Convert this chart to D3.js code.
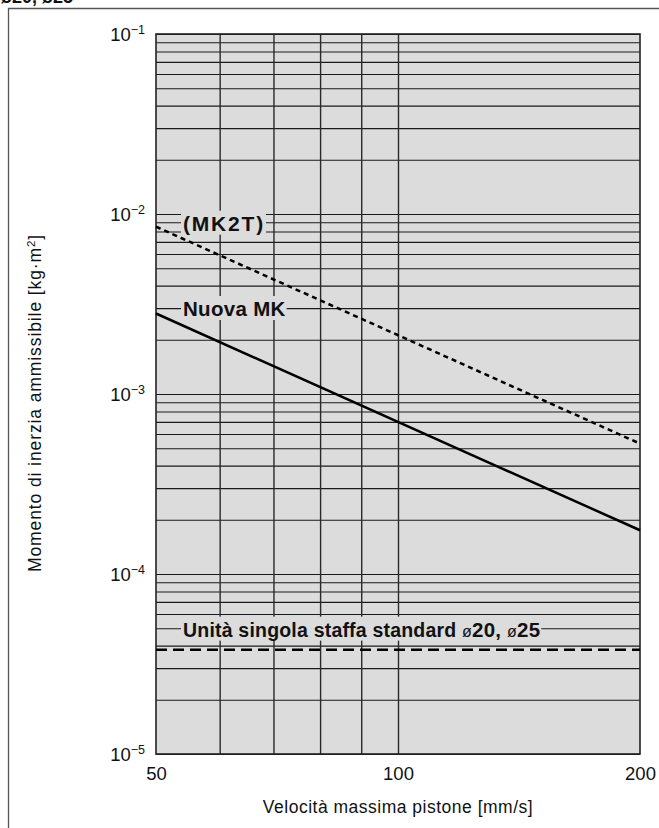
<!DOCTYPE html>
<html>
<head>
<meta charset="utf-8">
<script src="https://cdn.jsdelivr.net/npm/d3@7"></script>
<style>
  body { margin: 0; background: #fff; }
  svg text { font-family: "Liberation Sans", Arial, Helvetica, sans-serif; fill: #111; }
</style>
</head>
<body>
<div id="vis"></div>
<script>
// chart values
const velocity = [50, 200];                 // mm/s, end points of each straight line
const nuovaMK = [2.8e-3, 1.75e-4];          // kg·m²
const mk2t = [8.5e-3, 5.3e-4];
const standardUnit = [3.8e-5, 3.8e-5];
const xTicks = [50, 100, 200];
const xGrid = [60, 70, 80, 90, 100];
const yTicks = [1e-5, 1e-4, 1e-3, 1e-2, 1e-1];
const yGrid = d3.range(-5, -1).flatMap(e => d3.range(2, 10).map(m => m * Math.pow(10, e)));

const W = 659, H = 828;
const margin = { top: 34, right: 19, bottom: 74, left: 156 };
const width = W - margin.left - margin.right;
const height = H - margin.top - margin.bottom;

const svg = d3.select("#vis").append("svg")
  .attr("width", W)
  .attr("height", H);

// page frame + cut-off heading from the page above
svg.append("path")
  .attr("d", `M8.5,${H} V8.5 H${W}`)
  .attr("fill", "none")
  .attr("stroke", "#555")
  .attr("stroke-width", 1.3);
svg.append("text")
  .attr("x", 1).attr("y", 3)
  .attr("font-size", 18).attr("font-weight", "bold")
  .text("ø20, ø25");

const g = svg.append("g")
  .attr("transform", `translate(${margin.left},${margin.top})`);

const x = d3.scaleLog().domain([50, 200]).range([0, width]);
const y = d3.scaleLog().domain([1e-5, 1e-1]).range([height, 0]);

g.append("rect")
  .attr("width", width).attr("height", height)
  .attr("fill", "#dcdcdc");

// horizontal grid
g.append("g")
  .attr("class", "y-grid")
  .call(d3.axisLeft(y).tickValues(yGrid.concat(yTicks)).tickSize(-width).tickFormat(""))
  .call(s => s.select(".domain").remove())
  .selectAll("line")
  .attr("stroke", "#1a1a1a")
  .attr("stroke-width", 1.1);

// vertical grid
g.append("g")
  .attr("class", "x-grid")
  .attr("transform", `translate(0,${height})`)
  .call(d3.axisBottom(x).tickValues(xGrid).tickSize(-height).tickFormat(""))
  .call(s => s.select(".domain").remove())
  .selectAll("line")
  .attr("stroke", "#2a2a2a")
  .attr("stroke-width", 1.4);

// plot border
g.append("rect")
  .attr("width", width).attr("height", height)
  .attr("fill", "none")
  .attr("stroke", "#222")
  .attr("stroke-width", 1.6);

// y tick labels 10^n
const yAxis = g.append("g")
  .attr("class", "y-axis")
  .call(d3.axisLeft(y).tickValues(yTicks).tickSize(0).tickPadding(11).tickFormat(""));
yAxis.select(".domain").remove();
yAxis.selectAll(".tick text")
  .attr("font-size", 18.5)
  .attr("dy", "0.33em")
  .each(function(d) {
    const t = d3.select(this);
    t.append("tspan").text("10");
    t.append("tspan")
      .attr("font-size", 12.5)
      .attr("dy", -7)
      .text("\u2212" + Math.abs(Math.round(Math.log10(d))));
  });

// x tick labels
const xAxis = g.append("g")
  .attr("class", "x-axis")
  .attr("transform", `translate(0,${height})`)
  .call(d3.axisBottom(x).tickValues(xTicks).tickSize(0).tickPadding(13).tickFormat(d3.format("d")));
xAxis.select(".domain").remove();
xAxis.selectAll(".tick text")
  .attr("font-size", 18.5)
  .attr("fill", "#111");

// axis titles
svg.append("text")
  .attr("x", margin.left + x(100))
  .attr("y", 813)
  .attr("text-anchor", "middle")
  .attr("font-size", 17.5)
  .attr("letter-spacing", 0.5)
  .text("Velocità massima pistone [mm/s]");

const yTitle = svg.append("text")
  .attr("transform", `translate(41,403) rotate(-90)`)
  .attr("text-anchor", "middle")
  .attr("font-size", 17.5)
  .attr("letter-spacing", 0.9);
yTitle.append("tspan").text("Momento di inerzia ammissibile [kg·m");
yTitle.append("tspan").attr("font-size", 11.5).attr("dy", -6).text("2");
yTitle.append("tspan").attr("dy", 6).text("]");

// series lines
const line = d3.line().x(d => x(d[0])).y(d => y(d[1]));

g.append("path")
  .datum(d3.zip(velocity, mk2t))
  .attr("d", line)
  .attr("fill", "none")
  .attr("stroke", "#000")
  .attr("stroke-width", 2.5)
  .attr("stroke-dasharray", "5,4");

g.append("path")
  .datum(d3.zip(velocity, nuovaMK))
  .attr("d", line)
  .attr("fill", "none")
  .attr("stroke", "#000")
  .attr("stroke-width", 2.5);

g.append("path")
  .datum(d3.zip(velocity, standardUnit))
  .attr("d", line)
  .attr("fill", "none")
  .attr("stroke", "#000")
  .attr("stroke-width", 2.5)
  .attr("stroke-dasharray", "11,6");

// labels with background boxes that cut the grid
function label(vx, vy, dy, spacing, parts) {
  const lg = g.append("g");
  const rect = lg.append("rect").attr("fill", "#dcdcdc");
  const t = lg.append("text")
    .attr("x", x(vx) + 27)
    .attr("y", y(vy) + dy)
    .attr("letter-spacing", spacing)
    .attr("font-weight", "bold");
  parts.forEach(p => {
    t.append("tspan")
      .attr("font-size", p.size)
      .attr("font-weight", p.weight || "bold")
      .text(p.text);
  });
  const b = t.node().getBBox();
  rect.attr("x", b.x - 2).attr("y", b.y - 1)
    .attr("width", b.width + 3).attr("height", b.height + 1);
}

label(velocity[0], mk2t[0], 4, 1.8, [{ text: "(MK2T)", size: 21 }]);
label(velocity[0], nuovaMK[0], 2.5, 0.3, [{ text: "Nuova MK", size: 20.5 }]);
label(velocity[0], standardUnit[0], -13, 0.2, [
  { text: "Unità singola staffa standard ", size: 19.5 },
  { text: "ø", size: 16, weight: "normal" },
  { text: "20, ", size: 20.5 },
  { text: "ø", size: 16, weight: "normal" },
  { text: "25", size: 20.5 }
]);
</script>
</body>
</html>
